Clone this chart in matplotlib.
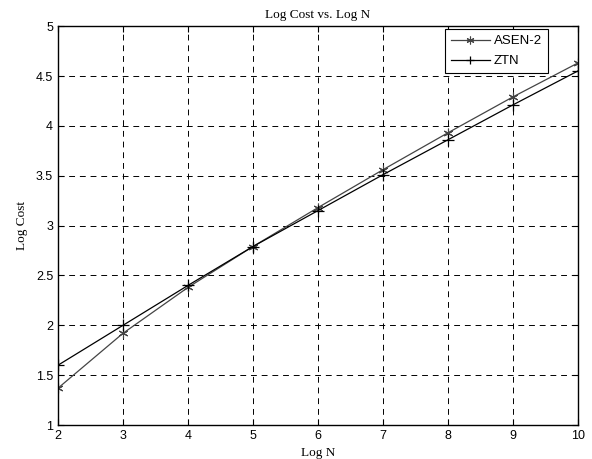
import matplotlib
matplotlib.use("Agg")
import matplotlib.pyplot as plt

log_n = [2, 3, 4, 5, 6, 7, 8, 9, 10]
asen2 = [1.37, 1.92, 2.38, 2.79, 3.18, 3.56, 3.93, 4.29, 4.63]
ztn = [1.60, 2.00, 2.40, 2.79, 3.15, 3.51, 3.86, 4.21, 4.55]
xticks = [2, 3, 4, 5, 6, 7, 8, 9, 10]
yticks = [1, 1.5, 2, 2.5, 3, 3.5, 4, 4.5, 5]
ytick_labels = ["1", "1.5", "2", "2.5", "3", "3.5", "4", "4.5", "5"]

fig = plt.figure(figsize=(5.92, 4.59), dpi=100)
ax = fig.add_axes([0.098, 0.074, 0.878, 0.869])

ax.plot(log_n, asen2, color="#444444", lw=0.9, marker=(6, 2, 0), ms=7,
        markeredgewidth=0.8, label="ASEN-2")
ax.plot(log_n, ztn, color="black", lw=0.9, marker="+", ms=8,
        markeredgewidth=0.9, label="ZTN")

ax.set_xlim(2, 10)
ax.set_ylim(1, 5)
ax.set_xticks(xticks)
ax.set_yticks(yticks)
ax.set_yticklabels(ytick_labels)
ax.tick_params(direction="in", top=True, right=True, length=4, width=0.8,
               labelsize=9)
for lab in ax.get_xticklabels() + ax.get_yticklabels():
    lab.set_fontfamily("Liberation Sans")
ax.grid(True, color="black", linestyle=(0, (6, 5)), linewidth=0.7)
for s in ax.spines.values():
    s.set_linewidth(1.0)

ax.set_title("Log Cost vs. Log N", fontfamily="Liberation Serif", fontsize=9.5, pad=6)
ax.set_xlabel("Log N", fontfamily="Liberation Serif", fontsize=9.5, labelpad=4)
ax.set_ylabel("Log Cost", fontfamily="Liberation Serif", fontsize=9.5, labelpad=6)

leg = ax.legend(loc="upper right", bbox_to_anchor=(0.942, 0.9925), borderaxespad=0,
                fancybox=False, edgecolor="black", framealpha=1, handlelength=3.0,
                prop={"family": "Liberation Sans", "size": 9.5}, markerscale=0.8,
                borderpad=0.45, labelspacing=0.6, handletextpad=0.25)
leg.get_frame().set_linewidth(0.8)

fig.savefig("out.png", dpi=100)
